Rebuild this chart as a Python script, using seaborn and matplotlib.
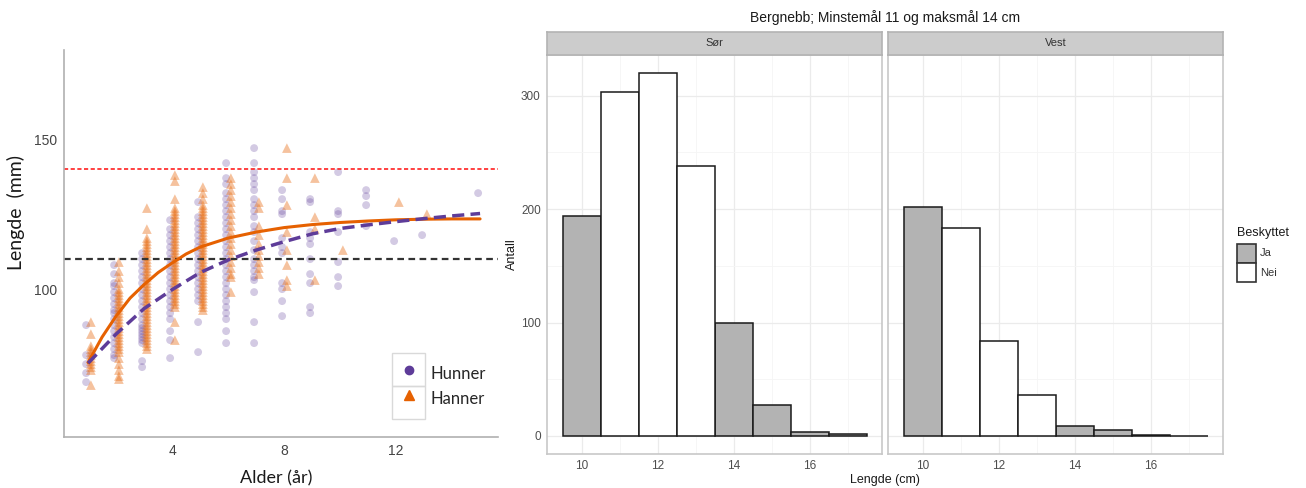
import pandas as pd
import seaborn as sns
import matplotlib.pyplot as plt
from matplotlib.patches import Rectangle
from matplotlib.lines import Line2D

# venstre figur: lengde (mm) mot alder (år), lest av bildet
hunner_1 = [88, 78, 75, 72, 69]
hunner_2 = [108, 105, 102, 101, 99, 97, 95, 93, 92, 90, 88, 86, 84, 82, 80, 78, 77]
hunner_3 = [112, 110, 108, 106, 104, 102, 100, 98, 96, 94, 92, 90, 88, 87, 86, 85, 84, 83, 82, 76, 74]
hunner_4 = [123, 120, 118, 116, 114, 112, 110, 108, 106, 104, 102, 100, 98, 96, 94, 92, 90, 86, 83, 77]
hunner_5 = [129, 124, 122, 120, 118, 116, 114, 112, 110, 108, 106, 104, 102, 100, 98, 96, 89, 79]
hunner_6 = [142, 137, 135, 132, 130, 128, 126, 124, 122, 120, 118, 116, 114, 112, 110, 108, 106, 104,
            102, 100, 98, 96, 94, 92, 90, 86, 82]
hunner_7 = [147, 142, 139, 137, 135, 133, 130, 128, 126, 124, 121, 119, 116, 113, 110, 108, 106, 104,
            103, 99, 89, 82]
hunner_8 = [133, 130, 126, 125, 117, 114, 112, 102, 100, 96, 91]
hunner_9 = [130, 129, 119, 117, 115, 110, 105, 102, 94, 92]
hunner_10 = [139, 126, 125, 119, 109, 104, 101]
hunner_11 = [133, 131, 128, 121]
hunner_12 = [116]
hunner_13 = [118]
hunner_15 = [132]

hanner_1 = [89, 85, 81, 80, 79, 78, 77, 76, 75, 74, 73, 68]
hanner_2 = [109, 106, 104, 102, 100, 99, 98, 97, 96, 95, 94, 93, 92, 91, 90, 89, 88, 87, 86, 85, 84,
            83, 82, 81, 80, 79, 77, 75, 73, 71, 70]
hanner_3 = [127, 120, 117, 116, 115, 114, 113, 112, 111, 110, 109, 108, 107, 106, 105, 104, 103, 102,
            101, 100, 99, 98, 97, 96, 95, 94, 93, 92, 91, 90, 89, 88, 87, 86, 85, 84, 83, 82, 81, 80]
hanner_4 = [138, 136, 130, 127, 126, 125, 124, 123, 122, 121, 120, 119, 118, 117, 116, 115, 114, 113,
            112, 111, 110, 109, 108, 107, 106, 105, 104, 103, 102, 101, 100, 99, 98, 97, 96, 95, 94, 89, 83]
hanner_5 = [134, 132, 130, 128, 127, 126, 125, 124, 123, 122, 121, 120, 119, 118, 117, 116, 115, 114,
            113, 112, 111, 110, 109, 108, 107, 106, 105, 104, 103, 102, 101, 100, 99, 98, 97, 96, 95, 94, 93]
hanner_6 = [137, 135, 133, 131, 129, 127, 125, 123, 121, 119, 117, 115, 113, 111, 109, 107, 105, 104, 99]
hanner_7 = [129, 127, 121, 118, 115, 113, 111, 109, 107, 105]
hanner_8 = [147, 137, 128, 119, 113, 108, 103, 101]
hanner_9 = [137, 124, 120, 103]
hanner_10 = [113]
hanner_12 = [129]
hanner_13 = [125]

# vekstkurver
kurve_alder_hanner = [1, 1.5, 2, 2.5, 3, 3.5, 4, 4.5, 5, 6, 7, 8, 9, 10, 11, 12, 13, 14, 15]
kurve_hanner = [75.5, 84, 91, 97, 101.5, 105.5, 108.7, 111.7, 114, 117, 119, 120.5, 121.5, 122.2,
                122.7, 123.1, 123.3, 123.4, 123.4]
kurve_alder_hunner = [1, 2, 3, 4, 5, 6, 7, 8, 9, 10, 11, 12, 13, 14, 15]
kurve_hunner = [75.3, 85, 93.5, 99.8, 105.5, 109.7, 113, 115.8, 118.4, 120.2, 121.4, 122.5, 123.5,
                124.4, 125.2]

minstemaal_mm = 110
maksmaal_mm = 140

# hoyre figur: antall per lengdegruppe
lengde_cm = [10, 11, 12, 13, 14, 15, 16, 17]
antall_sor = [194, 303, 320, 238, 100, 27, 3, 2]
antall_vest = [202, 183, 84, 36, 9, 5, 1, 0]
beskyttet = ["Ja", "Nei", "Nei", "Nei", "Ja", "Ja", "Ja", "Ja"]


def samle(grupper):
  rader = []
  for alder, verdier in grupper:
    for v in verdier:
      rader.append((alder, v))
  return pd.DataFrame(rader, columns=["alder", "lengde"])


hun = samle([(1, hunner_1), (2, hunner_2), (3, hunner_3), (4, hunner_4), (5, hunner_5), (6, hunner_6),
             (7, hunner_7), (8, hunner_8), (9, hunner_9), (10, hunner_10), (11, hunner_11),
             (12, hunner_12), (13, hunner_13), (15, hunner_15)])
han = samle([(1, hanner_1), (2, hanner_2), (3, hanner_3), (4, hanner_4), (5, hanner_5), (6, hanner_6),
             (7, hanner_7), (8, hanner_8), (9, hanner_9), (10, hanner_10), (12, hanner_12),
             (13, hanner_13)])
hun["x"] = hun["alder"] - 0.07
han["x"] = han["alder"] + 0.1

W, H = 1306, 488
LILLA = "#5e3c99"
ORANSJE = "#e66101"
GRAA = "#b3b3b3"
LABFONT = "Lato"
farger = {"Ja": GRAA, "Nei": "white"}

sns.set_style("white")
plt.rcParams["font.family"] = ["Liberation Sans", "DejaVu Sans"]

fig = plt.figure(figsize=(W / 100, H / 100), dpi=100)


def fy(px):
  return 1 - px / H


# ---------- venstre ----------
ax = fig.add_axes([64 / W, fy(437), 434 / W, 387 / H])
sns.scatterplot(data=hun, x="x", y="lengde", marker="o", color=LILLA, alpha=0.27, s=32,
                edgecolor="none", ax=ax, legend=False)
sns.scatterplot(data=han, x="x", y="lengde", marker="^", color=ORANSJE, alpha=0.38, s=48,
                edgecolor="none", ax=ax, legend=False)
ax.axhline(maksmaal_mm, color="#ff2020", lw=1.2, ls=(0, (2.5, 1.5)))
ax.axhline(minstemaal_mm, color="#333333", lw=1.6, ls=(0, (3, 2)))
sns.lineplot(x=kurve_alder_hanner, y=kurve_hanner, color=ORANSJE, lw=2.2, ax=ax)
sns.lineplot(x=kurve_alder_hunner, y=kurve_hunner, color=LILLA, lw=2.5, ax=ax,
             linestyle=(0, (3.5, 1.8)))

ax.set_xlim(0.14, 15.64)
ax.set_ylim(50.7, 179.7)
ax.set_xticks([4, 8, 12])
ax.set_yticks([100, 150])
for s in ["top", "right"]:
  ax.spines[s].set_visible(False)
for s in ["left", "bottom"]:
  ax.spines[s].set_color("#b0b0b0")
  ax.spines[s].set_linewidth(1.2)
ax.tick_params(length=3, width=0.8, color="#333333", labelcolor="#444444", labelsize=10, pad=2)
ax.set_xlabel("Alder (år)", family=LABFONT, fontsize=13, color="#1a1a1a")
ax.set_ylabel("Lengde  (mm)", family=LABFONT, fontsize=14, color="#1a1a1a")
ax.xaxis.set_label_coords(0.488, -0.086)
ax.yaxis.set_label_coords(-0.09, 0.58)

handles = [Line2D([], [], marker="o", ls="none", color=LILLA, markersize=6),
           Line2D([], [], marker="^", ls="none", color=ORANSJE, markersize=7)]
fig.legend(handles, ["Hunner", "Hanner"], loc="center left",
           bbox_to_anchor=(392 / W, fy(386)), frameon=False,
           prop={"family": LABFONT, "size": 12}, handlelength=1.98, handleheight=1.98,
           labelspacing=0, borderpad=0, borderaxespad=0, handletextpad=0.3)
for y0 in [353, 386]:
  fig.add_artist(Rectangle((392 / W, fy(y0 + 33)), 33 / W, 33 / H, transform=fig.transFigure,
                           fill=False, edgecolor="#d9d9d9", lw=1))

# ---------- hoyre ----------
paneler = [("Sør", antall_sor, 547), ("Vest", antall_vest, 888)]
for i, (navn, antall, x0) in enumerate(paneler):
  pax = fig.add_axes([x0 / W, fy(454), 335 / W, 399 / H])
  df = pd.DataFrame({"lengde": lengde_cm, "antall": antall, "Beskyttet": beskyttet})
  sns.barplot(data=df, x="lengde", y="antall", hue="Beskyttet", palette=farger,
              dodge=False, native_scale=True, width=1, edgecolor="#1a1a1a", linewidth=1.1,
              legend=False, ax=pax, zorder=3)
  pax.set_xlim(9.087, 17.9)
  pax.set_ylim(-16, 336)
  pax.set_xticks([10, 12, 14, 16])
  pax.set_xticklabels(["10", "12", "14", "16"])
  pax.set_xticks([11, 13, 15, 17], minor=True)
  pax.set_yticks([0, 100, 200, 300])
  pax.set_yticks([50, 150, 250], minor=True)
  pax.grid(which="major", color="#ebebeb", lw=0.9)
  pax.grid(which="minor", color="#f5f5f5", lw=0.6)
  pax.set_axisbelow(True)
  for s in pax.spines.values():
    s.set_color("#c8c8c8")
    s.set_linewidth(1.2)
  pax.tick_params(which="major", length=2.5, width=0.7, color="#333333", labelcolor="#4d4d4d",
                  labelsize=8.5, pad=2)
  pax.tick_params(which="minor", length=0)
  pax.set_xlabel("")
  if i == 0:
    pax.set_ylabel("Antall", fontsize=9, color="#1a1a1a")
    pax.yaxis.set_label_coords(-0.0866, 0.5)
  else:
    pax.set_ylabel("")
    pax.tick_params(axis="y", which="major", length=0, labelleft=False)

  strip = fig.add_axes([x0 / W, fy(55), 335 / W, 23 / H])
  strip.set_facecolor("#cccccc")
  strip.set_xticks([])
  strip.set_yticks([])
  for s in strip.spines.values():
    s.set_color("#b3b3b3")
    s.set_linewidth(1.2)
  strip.text(0.5, 0.5, navn, ha="center", va="center", fontsize=8, color="#333333",
             transform=strip.transAxes)

fig.text(885 / W, fy(480), "Lengde (cm)", ha="center", va="center", fontsize=9, color="#1a1a1a")
fig.text(885 / W, fy(18), "Bergnebb; Minstemål 11 og maksmål 14 cm", ha="center", va="center",
         fontsize=10, color="#1a1a1a")

# forklaring for Beskyttet
fig.text(1237 / W, fy(233), "Beskyttet", ha="left", va="center", fontsize=9, color="#1a1a1a")
for j, kat in enumerate(["Ja", "Nei"]):
  top = 244 + 19 * j
  fig.add_artist(Rectangle((1237 / W, fy(top + 19)), 19 / W, 19 / H, transform=fig.transFigure,
                           facecolor=farger[kat], edgecolor="#333333", lw=1.2))
  fig.text(1260 / W, fy(top + 9.5), kat, ha="left", va="center", fontsize=8, color="#333333")

fig.savefig("out.png", dpi=100)
